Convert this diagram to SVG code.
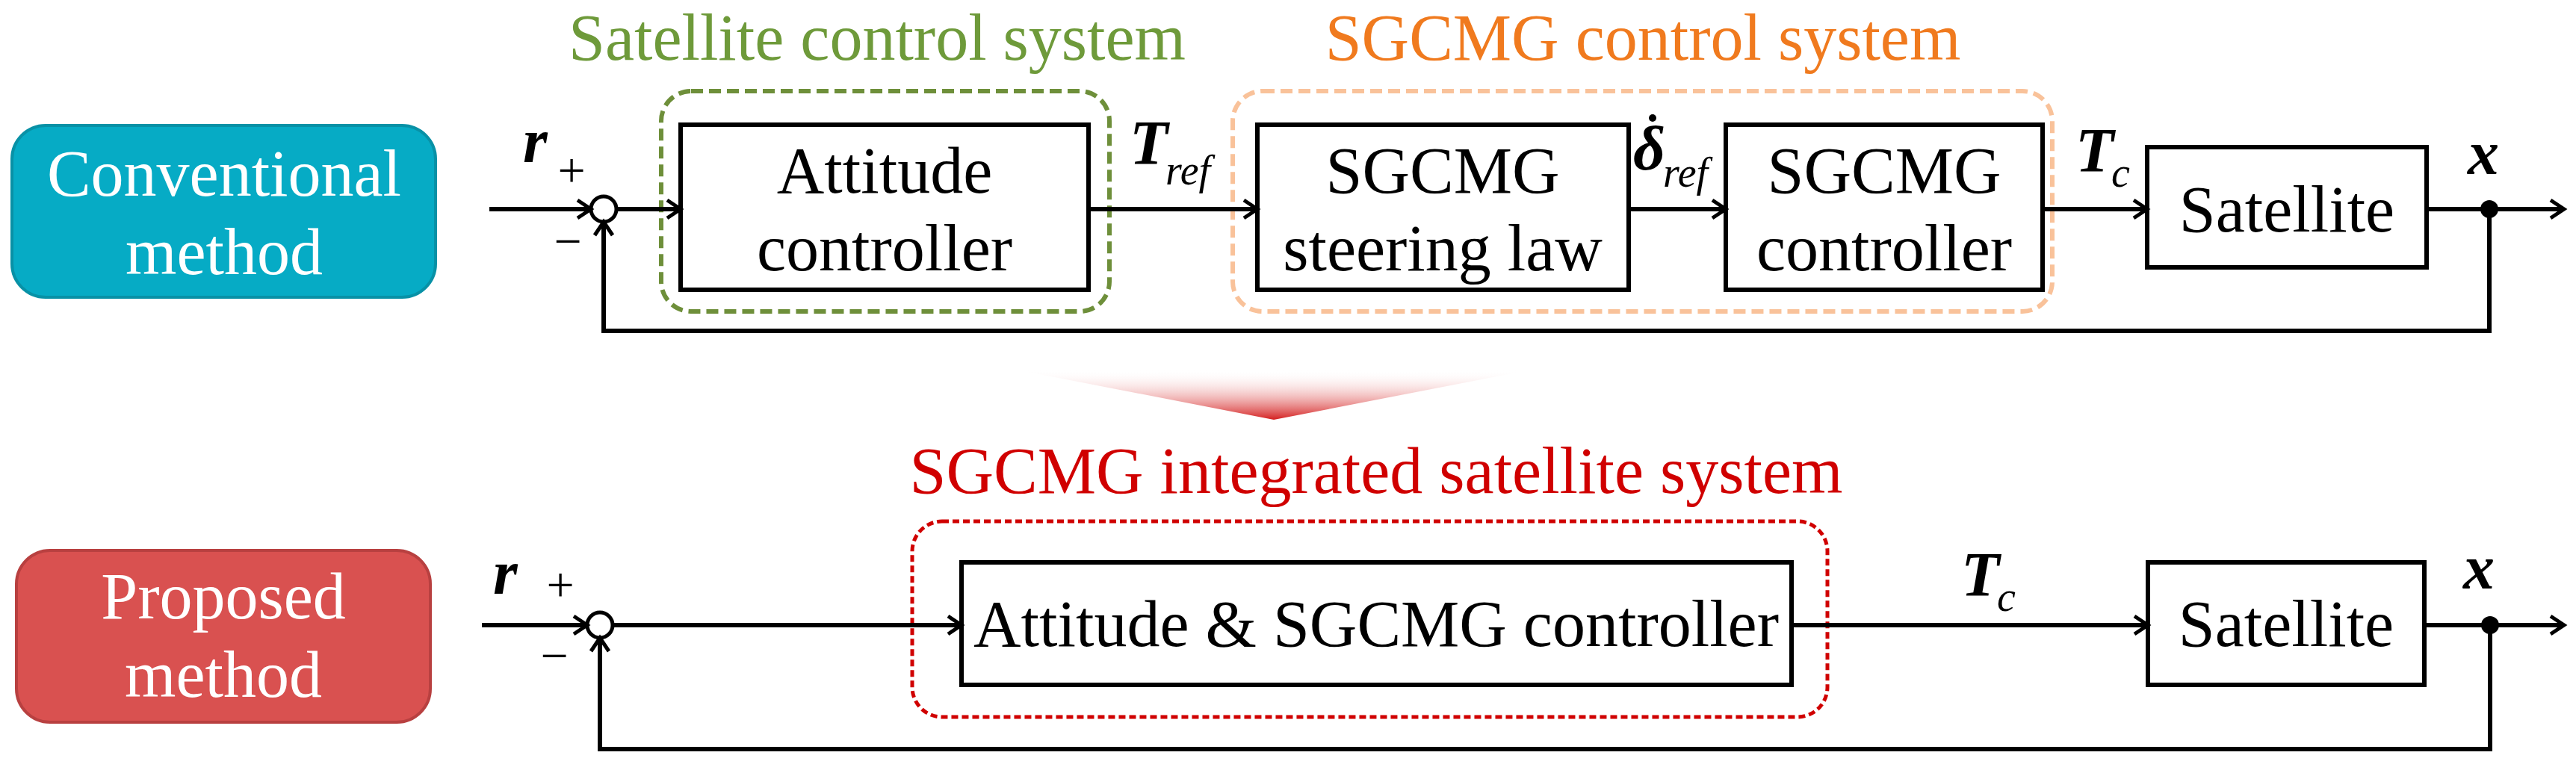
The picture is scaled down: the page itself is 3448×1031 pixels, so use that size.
<svg xmlns="http://www.w3.org/2000/svg" width="3448" height="1031" viewBox="0 0 3448 1031">
<defs>
<marker id="ah" markerWidth="30" markerHeight="30" refX="24" refY="15" orient="auto" markerUnits="userSpaceOnUse" viewBox="0 0 30 30">
<path d="M6,3 L24,15 L6,27" fill="none" stroke="#000" stroke-width="5"/>
</marker>
<linearGradient id="tri" x1="0" y1="0" x2="0" y2="1">
<stop offset="0" stop-color="#fff" stop-opacity="0"/>
<stop offset="1" stop-color="#D42020"/>
</linearGradient>
<style>
text{font-family:'Liberation Serif','Times New Roman','DejaVu Serif',serif}
.t{font-size:88px;text-anchor:middle}
.v{font-weight:bold;font-style:italic;font-size:84px}
.s{font-style:italic;font-size:56px}
.pm{font-size:66px;text-anchor:middle}
.b{fill:#fff;stroke:#000;stroke-width:6}
.a{fill:none;stroke:#000;stroke-width:6;marker-end:url(#ah)}
</style>
</defs>
<g id="method-conventional">
<rect x="16" y="168" width="567" height="230" rx="45" fill="#06ABC5" stroke="#0891A6" stroke-width="4"/>
<text class="t" x="300" y="262" fill="#fff">Conventional</text>
<text class="t" x="300" y="367" fill="#fff">method</text>
</g>
<g id="method-proposed">
<rect x="22" y="737" width="554" height="230" rx="45" fill="#D95150" stroke="#B84040" stroke-width="4"/>
<text class="t" x="299" y="828" fill="#fff">Proposed</text>
<text class="t" x="299" y="933" fill="#fff">method</text>
</g>
<g id="group-satellite-control">
<rect x="885" y="122" width="600" height="295" rx="40" fill="none" stroke="#6E8F3A" stroke-width="6" stroke-dasharray="16,8"/>
<text class="t" x="1174" y="80" fill="#6E9A3A" font-size="84">Satellite control system</text>
</g>
<g id="group-sgcmg-control">
<rect x="1650" y="122" width="1097" height="295" rx="40" fill="none" stroke="#F9C29A" stroke-width="6" stroke-dasharray="16,8"/>
<text class="t" x="2199" y="80" fill="#F07A1E" font-size="84">SGCMG control system</text>
</g>
<g id="group-integrated">
<rect x="1221" y="698" width="1225" height="262" rx="40" fill="none" stroke="#D00000" stroke-width="5" stroke-dasharray="9,5"/>
<text class="t" x="1842" y="660" fill="#D00000" font-size="84">SGCMG integrated satellite system</text>
</g>
<g id="arrow-down">
<polygon points="1360,495 2050,495 1705,562" fill="url(#tri)"/>
</g>
<g id="attitude-controller">
<rect class="b" x="911" y="167" width="546" height="221"/>
<text class="t" x="1184" y="258">Attitude</text>
<text class="t" x="1184" y="362">controller</text>
</g>
<g id="steering-law">
<rect class="b" x="1683" y="167" width="497" height="221"/>
<text class="t" x="1931" y="258">SGCMG</text>
<text class="t" x="1931" y="362">steering law</text>
</g>
<g id="sgcmg-controller">
<rect class="b" x="2310" y="167" width="424" height="221"/>
<text class="t" x="2522" y="258">SGCMG</text>
<text class="t" x="2522" y="362">controller</text>
</g>
<g id="satellite-top">
<rect class="b" x="2874" y="197" width="374" height="161"/>
<text class="t" x="3061" y="310">Satellite</text>
</g>
<g id="integrated-controller">
<rect class="b" x="1287" y="753" width="1111" height="164"/>
<text class="t" x="1842" y="865">Attitude &amp; SGCMG controller</text>
</g>
<g id="satellite-bottom">
<rect class="b" x="2875" y="753" width="370" height="164"/>
<text class="t" x="3060" y="865">Satellite</text>
</g>
<g id="sum-top"><circle cx="808" cy="280" r="17" fill="#fff" stroke="#000" stroke-width="5"/></g>
<g id="sum-bottom"><circle cx="803" cy="837" r="17" fill="#fff" stroke="#000" stroke-width="5"/></g>
<g id="connectors">
<line class="a" x1="655" y1="280" x2="791" y2="280"/>
<line class="a" x1="825" y1="280" x2="911" y2="280"/>
<line class="a" x1="1460" y1="280" x2="1683" y2="280"/>
<line class="a" x1="2183" y1="280" x2="2310" y2="280"/>
<line class="a" x1="2737" y1="280" x2="2874" y2="280"/>
<line class="a" x1="3251" y1="280" x2="3432" y2="280"/>
<polyline class="a" points="3332,280 3332,443 808,443 808,297"/>
<circle cx="3332" cy="280" r="12" fill="#000"/>
<line class="a" x1="645" y1="837" x2="786" y2="837"/>
<line class="a" x1="820" y1="837" x2="1287" y2="837"/>
<line class="a" x1="2401" y1="837" x2="2875" y2="837"/>
<line class="a" x1="3248" y1="837" x2="3432" y2="837"/>
<polyline class="a" points="3333,837 3333,1003 803,1003 803,854"/>
<circle cx="3333" cy="837" r="12" fill="#000"/>
</g>
<g id="labels">
<text class="v" x="700" y="217">r</text>
<text class="pm" x="765" y="250">+</text>
<text class="pm" x="760" y="345">−</text>
<text class="v" x="1512" y="220">T</text><text class="s" x="1560" y="247">ref</text>
<text class="v" x="2186" y="227">δ</text><circle cx="2212" cy="158" r="5" fill="#000"/><text class="s" x="2226" y="250">ref</text>
<text class="v" x="2778" y="230">T</text><text class="s" x="2826" y="250">c</text>
<text class="v" x="3303" y="233">x</text>
<text class="v" x="660" y="795">r</text>
<text class="pm" x="750" y="805">+</text>
<text class="pm" x="742" y="900">−</text>
<text class="v" x="2625" y="798">T</text><text class="s" x="2673" y="818">c</text>
<text class="v" x="3297" y="788">x</text>
</g>
</svg>
